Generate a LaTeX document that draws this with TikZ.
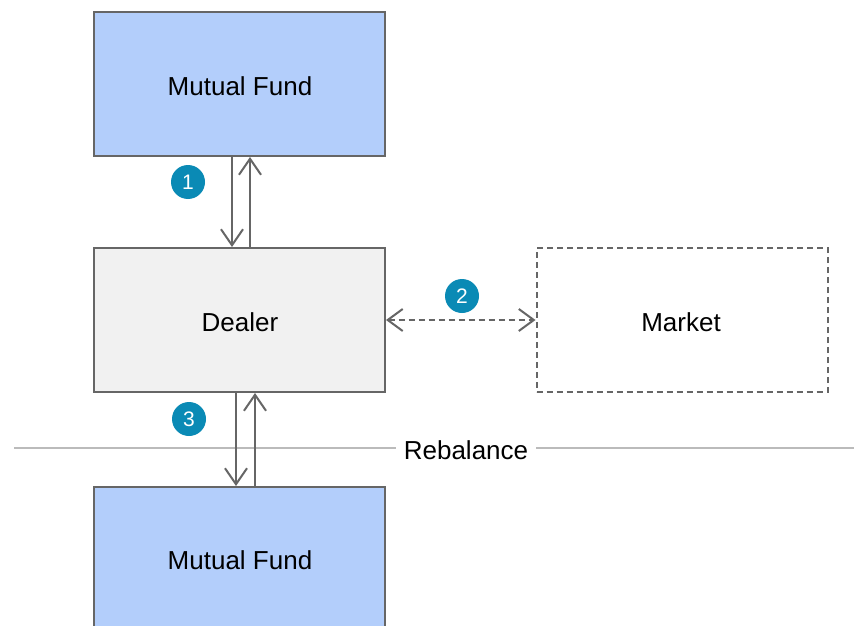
\documentclass[tikz,border=0pt]{standalone}
\usepackage{fontspec}
\setmainfont{Liberation Sans}
\usetikzlibrary{arrows.meta}
\definecolor{fundblue}{HTML}{B3CEFB}
\definecolor{dealergray}{HTML}{F1F1F1}
\definecolor{edgegray}{HTML}{666666}
\definecolor{badge}{HTML}{0A8AB5}
\definecolor{rulegray}{HTML}{BBBBBB}
\tikzset{
  box/.style={draw=edgegray, line width=2pt, minimum width=291pt, minimum height=144pt, inner sep=0pt, font=\fontsize{26}{30}\selectfont},
  boxtext/.style={font=\fontsize{26}{30}\selectfont, inner sep=0pt},
  fundbox/.style={box, fill=fundblue},
  dealerbox/.style={box, fill=dealergray},
  marketbox/.style={box, fill=white, dashed, dash pattern=on 6pt off 4pt},
  flow/.style={draw=edgegray, line width=2pt, -{Straight Barb[length=16pt,width=22pt,line width=2pt]}},
  dflow/.style={flow, {Straight Barb[length=15pt,width=22pt,line width=2pt]}-{Straight Barb[length=15pt,width=22pt,line width=2pt]}, dash pattern=on 6pt off 4pt},
  badgec/.style={circle, fill=badge, minimum size=34pt, inner sep=0pt, text=white, font=\fontsize{21}{24}\selectfont},
}
\begin{document}
\begin{tikzpicture}[x=1pt,y=-1pt]
\clip (0,0) rectangle (854,626);
\fill[white] (0,0) rectangle (854,626);
% rebalance line
\coordinate (rl) at (14,448);
\coordinate (rr) at (854,448);
\draw[rulegray, line width=1.5pt] (rl) -- (rr);
\node[fill=white, inner xsep=8pt, font=\fontsize{26}{30}\selectfont] (reb) at (466,450) {Rebalance};
% boxes
\node[fundbox] (mf1) at (239.5,84) {};
\node[dealerbox] (dealer) at (239.5,320) {};
\node[marketbox] (market) at (682,320) {};
\node[fundbox] (mf2) at (239.5,559) {};
\node[boxtext] (mf1t) at (240,86) {Mutual Fund};
\node[boxtext] (dealert) at (240,322) {Dealer};
\node[boxtext] (markett) at (681,322) {Market};
\node[boxtext] (mf2t) at (240,560) {Mutual Fund};
% arrows
\draw[flow] ([xshift=-7.5pt]mf1.south) -- ([xshift=-7.5pt]dealer.north);
\draw[flow] ([xshift=10.5pt]dealer.north) -- ([xshift=10.5pt]mf1.south);
\draw[dflow] (dealer.east) -- (market.west);
\draw[flow] ([xshift=-3.5pt]dealer.south) -- ([xshift=-3.5pt]mf2.north);
\draw[flow] ([xshift=15.5pt]mf2.north) -- ([xshift=15.5pt]dealer.south);
% badges
\node[badgec] (b1) at (188,182) {1};
\node[badgec] (b2) at (462,296) {2};
\node[badgec] (b3) at (189,419) {3};
\end{tikzpicture}
\end{document}
